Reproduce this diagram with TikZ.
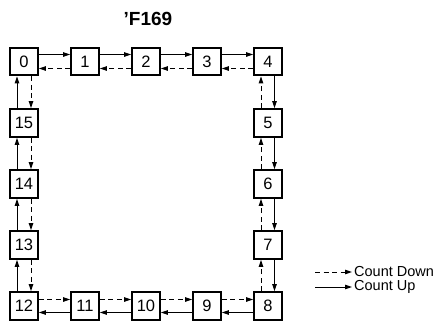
\documentclass[tikz,border=0pt]{standalone}
\usepackage{fontspec}
\setmainfont{Liberation Sans}
\usetikzlibrary{arrows.meta}
\begin{document}
\begin{tikzpicture}[x=1pt,y=-1pt,
  cbox/.style={draw,line width=2.3pt,minimum size=27.5pt,inner sep=0pt,font=\fontsize{16.5}{17}\selectfont},
  up/.style={line width=1pt,-{Triangle[length=7pt,width=4.5pt]}},
  down/.style={line width=1pt,dash pattern=on 5pt off 3.5pt,-{Triangle[length=7pt,width=4.5pt]}},
  lbl/.style={anchor=west,inner sep=0pt,font=\fontsize{14.5}{15}\selectfont}]
\useasboundingbox (0,0) rectangle (437,322);
\node[font=\bfseries\fontsize{19}{19}\selectfont] (title) at (148,19) {'F169};
% top row
\node[cbox] (n0) at (24,61.5) {0};
\node[cbox] (n1) at (85,61.5) {1};
\node[cbox] (n2) at (146,61.5) {2};
\node[cbox] (n3) at (207,61.5) {3};
\node[cbox] (n4) at (268,61.5) {4};
% right column
\node[cbox] (n5) at (268,123) {5};
\node[cbox] (n6) at (268,184) {6};
\node[cbox] (n7) at (268,245) {7};
\node[cbox] (n8) at (268,306) {8};
% bottom row
\node[cbox] (n9) at (207,306) {9};
\node[cbox] (n10) at (146,306) {10};
\node[cbox] (n11) at (85,306) {11};
\node[cbox] (n12) at (24,306) {12};
% left column
\node[cbox] (n13) at (24,245) {13};
\node[cbox] (n14) at (24,184) {14};
\node[cbox] (n15) at (24,123) {15};
% top row arrows
\foreach \a/\b in {n0/n1,n1/n2,n2/n3,n3/n4}{
  \draw[up] ([yshift=7pt]\a.east) -- ([yshift=7pt]\b.west);
  \draw[down] ([yshift=-7pt]\b.west) -- ([yshift=-7pt]\a.east);
}
% right column arrows
\foreach \a/\b in {n4/n5,n5/n6,n6/n7,n7/n8}{
  \draw[up] ([xshift=6.5pt]\a.south) -- ([xshift=6.5pt]\b.north);
  \draw[down] ([xshift=-7pt]\b.north) -- ([xshift=-7pt]\a.south);
}
% bottom row arrows
\foreach \a/\b in {n8/n9,n9/n10,n10/n11,n11/n12}{
  \draw[up] ([yshift=-6.5pt]\a.west) -- ([yshift=-6.5pt]\b.east);
  \draw[down] ([yshift=6.5pt]\b.east) -- ([yshift=6.5pt]\a.west);
}
% left column arrows
\foreach \a/\b in {n12/n13,n13/n14,n14/n15,n15/n0}{
  \draw[up] ([xshift=-7pt]\a.north) -- ([xshift=-7pt]\b.south);
  \draw[down] ([xshift=7pt]\b.south) -- ([xshift=7pt]\a.north);
}
% legend
\coordinate (ld1) at (315,272);
\coordinate (ld2) at (352,272);
\coordinate (lu1) at (315,287);
\coordinate (lu2) at (352,287);
\draw[down] (ld1) -- (ld2);
\draw[up] (lu1) -- (lu2);
\node[lbl] (tdown) at (354,272) {Count Down};
\node[lbl] (tup) at (354,287) {Count Up};
\end{tikzpicture}
\end{document}
